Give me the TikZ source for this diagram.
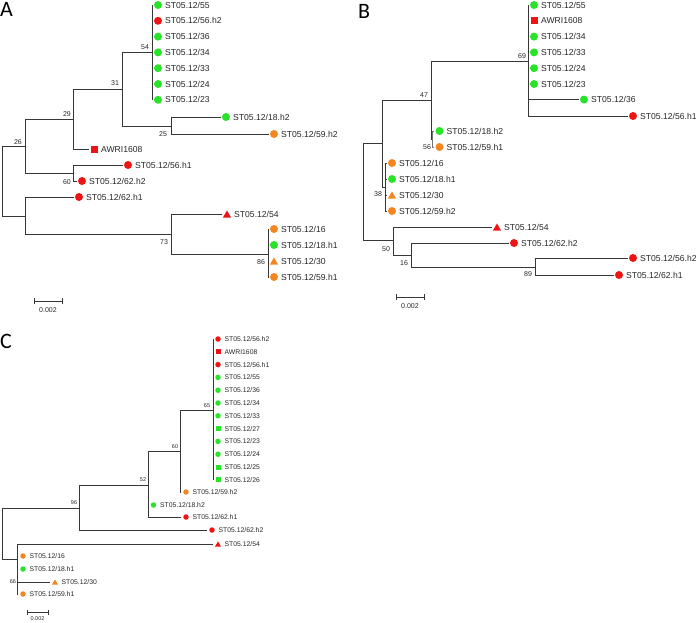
\documentclass[tikz,border=0pt]{standalone}
\usepackage{fontspec}
\setmainfont{Liberation Sans}
\newfontfamily\panelfont{Carlito}
\usetikzlibrary{shapes.geometric}
\definecolor{gr}{RGB}{40,228,40}
\definecolor{rd}{RGB}{238,20,20}
\definecolor{og}{RGB}{244,134,32}
\definecolor{ln}{RGB}{55,55,55}
\tikzset{
  br/.style={draw=ln, line width=1pt, line cap=rect},
  brc/.style={draw=ln, line width=0.8pt, line cap=rect},
  mk/.style={inner sep=0pt, outer sep=0pt, draw=none},
  gdot/.style={mk, circle, fill=gr, minimum size=8pt},
  rdot/.style={mk, circle, fill=rd, minimum size=8pt},
  odot/.style={mk, circle, fill=og, minimum size=8pt},
  rsq/.style={mk, rectangle, fill=rd, minimum size=7pt},
  rtri/.style={mk, regular polygon, regular polygon sides=3, fill=rd, minimum size=9.5pt, yshift=-1.2pt},
  otri/.style={mk, regular polygon, regular polygon sides=3, fill=og, minimum size=9.5pt, yshift=-1.2pt},
  cgdot/.style={mk, circle, fill=gr, minimum size=5.5pt},
  crdot/.style={mk, circle, fill=rd, minimum size=5.5pt},
  codot/.style={mk, circle, fill=og, minimum size=5.5pt},
  crsq/.style={mk, rectangle, fill=rd, minimum size=5pt},
  cgsq/.style={mk, rectangle, fill=gr, minimum size=5pt},
  crtri/.style={mk, regular polygon, regular polygon sides=3, fill=rd, minimum size=7pt, yshift=-0.9pt},
  cotri/.style={mk, regular polygon, regular polygon sides=3, fill=og, minimum size=7pt, yshift=-0.9pt},
  lblA/.style={anchor=base west, inner sep=0pt, font=\fontsize{8.6}{10}\selectfont, text=black!85},
  lblC/.style={anchor=base west, inner sep=0pt, font=\fontsize{6.8}{8}\selectfont, text=black!85},
  bs/.style={inner sep=0pt, font=\fontsize{7}{8}\selectfont, text=black!85},
  bsc/.style={inner sep=0pt, font=\fontsize{5.5}{6}\selectfont, text=black!85},
  panel/.style={inner sep=0pt, font=\panelfont\fontsize{22}{24}\selectfont},
}
\newcommand\leafA[5]{%
  \coordinate (#1) at (#2,#3);
  \node[#4] (#1-m) at (#2+6,#3) {};
  \node[lblA] (#1-t) at (#2+13,#3+3.1) {#5};}
\newcommand\leafC[5]{%
  \coordinate (#1) at (#2,#3);
  \node[#4] (#1-m) at (#2+5,#3) {};
  \node[lblC] (#1-t) at (#2+11.5,#3+2.45) {#5};}
\begin{document}
\begin{tikzpicture}[x=1pt,y=-1pt]
\useasboundingbox (0,0) rectangle (696,622);
% ================= Panel A =================
\node[panel] (pA) at (6.5,9.5) {A};
\coordinate (rA) at (2,181);
\coordinate (n26) at (25,146);
\coordinate (n29) at (73,119);
\coordinate (n31) at (122,89);
\coordinate (n54) at (152,52);
\coordinate (n25) at (171,126);
\coordinate (n60) at (73,173);
\coordinate (nLA) at (25,216);
\coordinate (n73) at (171,234);
\coordinate (n86) at (268,254);
\leafA{a55}{152}{5}{gdot}{ST05.12/55}
\leafA{a56h2}{152}{20.8}{rdot}{ST05.12/56.h2}
\leafA{a36}{152}{36.6}{gdot}{ST05.12/36}
\leafA{a34}{152}{52.4}{gdot}{ST05.12/34}
\leafA{a33}{152}{68.2}{gdot}{ST05.12/33}
\leafA{a24}{152}{84}{gdot}{ST05.12/24}
\leafA{a23}{152}{99.8}{gdot}{ST05.12/23}
\leafA{a18h2}{220}{117}{gdot}{ST05.12/18.h2}
\leafA{a59h2}{268}{134}{odot}{ST05.12/59.h2}
\leafA{aAW}{88}{149}{rsq}{AWRI1608}
\leafA{a56h1}{122}{165}{rdot}{ST05.12/56.h1}
\leafA{a62h2}{76}{181}{rdot}{ST05.12/62.h2}
\leafA{a62h1}{73}{197}{rdot}{ST05.12/62.h1}
\leafA{a54}{221}{214}{rtri}{ST05.12/54}
\leafA{a16}{268}{229}{odot}{ST05.12/16}
\leafA{a18h1}{268}{245}{gdot}{ST05.12/18.h1}
\leafA{a30}{268}{261}{otri}{ST05.12/30}
\leafA{a59h1}{268}{277}{odot}{ST05.12/59.h1}
\draw[br] (rA) |- (n26); \draw[br] (rA) |- (nLA);
\draw[br] (n26) |- (n29); \draw[br] (n26) |- (n60);
\draw[br] (n29) |- (n31); \draw[br] (n29) |- (aAW);
\draw[br] (n31) |- (n54); \draw[br] (n31) |- (n25);
\foreach \l in {a55,a56h2,a36,a34,a33,a24,a23} \draw[br] (n54) |- (\l);
\draw[br] (n25) |- (a18h2); \draw[br] (n25) |- (a59h2);
\draw[br] (n60) |- (a56h1); \draw[br] (n60) |- (a62h2);
\draw[br] (nLA) |- (a62h1); \draw[br] (nLA) |- (n73);
\draw[br] (n73) |- (a54); \draw[br] (n73) |- (n86);
\foreach \l in {a16,a18h1,a30,a59h1} \draw[br] (n86) |- (\l);
\node[bs] (sA54) at (145,47) {54};
\node[bs] (sA31) at (115,83) {31};
\node[bs] (sA29) at (67,114) {29};
\node[bs] (sA26) at (18,142) {26};
\node[bs] (sA25) at (163,134) {25};
\node[bs] (sA60) at (67,182) {60};
\node[bs] (sA73) at (164,242) {73};
\node[bs] (sA86) at (261,262) {86};
\coordinate (sbA1) at (34,301); \coordinate (sbA2) at (62,301);
\draw[br, line cap=butt] (sbA1) -- (sbA2);
\draw[br, line cap=butt] ([yshift=3pt]sbA1) -- ([yshift=-3pt]sbA1);
\draw[br, line cap=butt] ([yshift=3pt]sbA2) -- ([yshift=-3pt]sbA2);
\node[bs] (sbAt) at (48,310) {0.002};
% ================= Panel B =================
\node[panel] (pB) at (364,11) {B};
\coordinate (rB) at (363,191.5);
\coordinate (nB1) at (382,143);
\coordinate (n47) at (431,100);
\coordinate (n69) at (528,61);
\coordinate (n56) at (432.5,139);
\coordinate (n38) at (385,187);
\coordinate (n50) at (393,240);
\coordinate (n16) at (411,255);
\coordinate (n89) at (535,267);
\leafA{b55}{528}{5}{gdot}{ST05.12/55}
\leafA{bAW}{528}{20.8}{rsq}{AWRI1608}
\leafA{b34}{528}{36.6}{gdot}{ST05.12/34}
\leafA{b33}{528}{52.4}{gdot}{ST05.12/33}
\leafA{b24}{528}{68.2}{gdot}{ST05.12/24}
\leafA{b23}{528}{84}{gdot}{ST05.12/23}
\leafA{b36}{578}{99.5}{gdot}{ST05.12/36}
\leafA{b56h1}{627}{116}{rdot}{ST05.12/56.h1}
\leafA{b18h2}{433.5}{131}{gdot}{ST05.12/18.h2}
\leafA{b59h1}{433.5}{147}{odot}{ST05.12/59.h1}
\leafA{b16}{386}{163}{odot}{ST05.12/16}
\leafA{b18h1}{386}{179}{gdot}{ST05.12/18.h1}
\leafA{b30}{386}{195}{otri}{ST05.12/30}
\leafA{b59h2}{386}{211}{odot}{ST05.12/59.h2}
\leafA{b54}{491}{227}{rtri}{ST05.12/54}
\leafA{b62h2}{508}{243}{rdot}{ST05.12/62.h2}
\leafA{b56h2}{627}{258}{rdot}{ST05.12/56.h2}
\leafA{b62h1}{613}{275}{rdot}{ST05.12/62.h1}
\draw[br] (rB) |- (nB1); \draw[br] (rB) |- (n50);
\draw[br] (nB1) |- (n47); \draw[br] (nB1) |- (n38);
\draw[br] (n47) |- (n69); \draw[br] (n47) |- (n56);
\foreach \l in {b55,bAW,b34,b33,b24,b23,b36,b56h1} \draw[br] (n69) |- (\l);
\draw[br, draw=black!55] (n56) |- (b18h2); \draw[br, draw=black!55] (n56) |- (b59h1);
\foreach \l in {b16,b18h1,b30,b59h2} \draw[br] (n38) |- (\l);
\draw[br] (n50) |- (b54); \draw[br] (n50) |- (n16);
\draw[br] (n16) |- (b62h2); \draw[br] (n16) |- (n89);
\draw[br] (n89) |- (b56h2); \draw[br] (n89) |- (b62h1);
\node[bs] (sB69) at (522,56) {69};
\node[bs] (sB47) at (424,95) {47};
\node[bs] (sB56) at (427,147) {56};
\node[bs] (sB38) at (378,194) {38};
\node[bs] (sB50) at (386,249) {50};
\node[bs] (sB16) at (404,263) {16};
\node[bs] (sB89) at (528,274) {89};
\coordinate (sbB1) at (396,297); \coordinate (sbB2) at (424,297);
\draw[br, line cap=butt] (sbB1) -- (sbB2);
\draw[br, line cap=butt] ([yshift=3pt]sbB1) -- ([yshift=-3pt]sbB1);
\draw[br, line cap=butt] ([yshift=3pt]sbB2) -- ([yshift=-3pt]sbB2);
\node[bs] (sbBt) at (410,306) {0.002};
% ================= Panel C =================
\node[panel] (pC) at (6,341.5) {C};
\coordinate (rC) at (2,533.5);
\coordinate (n96) at (79,508);
\coordinate (n52) at (148,485);
\coordinate (nc60) at (180,451);
\coordinate (n65) at (213,410);
\coordinate (nX) at (17,559);
\coordinate (n66) at (17,575);
\leafC{c56h2}{213}{339}{crdot}{ST05.12/56.h2}
\leafC{cAW}{213}{351.8}{crsq}{AWRI1608}
\leafC{c56h1}{213}{364.6}{crdot}{ST05.12/56.h1}
\leafC{c55}{213}{377.4}{cgdot}{ST05.12/55}
\leafC{c36}{213}{390.2}{cgdot}{ST05.12/36}
\leafC{c34}{213}{403}{cgdot}{ST05.12/34}
\leafC{c33}{213}{415.8}{cgdot}{ST05.12/33}
\leafC{c27}{213}{428.6}{cgsq}{ST05.12/27}
\leafC{c23}{213}{441.4}{cgdot}{ST05.12/23}
\leafC{c24}{213}{454.2}{cgdot}{ST05.12/24}
\leafC{c25}{213}{467}{cgsq}{ST05.12/25}
\leafC{c26}{213}{479.8}{cgsq}{ST05.12/26}
\leafC{c59h2}{181}{492}{codot}{ST05.12/59.h2}
\leafC{c18h2}{148.5}{505}{cgdot}{ST05.12/18.h2}
\leafC{c62h1}{181}{517}{crdot}{ST05.12/62.h1}
\leafC{c62h2}{207}{530}{crdot}{ST05.12/62.h2}
\leafC{c54}{213}{544}{crtri}{ST05.12/54}
\leafC{c16}{18}{556}{codot}{ST05.12/16}
\leafC{c18h1}{18}{569}{cgdot}{ST05.12/18.h1}
\leafC{c30}{50}{582}{cotri}{ST05.12/30}
\leafC{c59h1}{18}{594}{codot}{ST05.12/59.h1}
\draw[brc] (rC) |- (n96); \draw[brc] (rC) |- (nX);
\draw[brc] (n96) |- (n52); \draw[brc] (n96) |- (c62h2);
\draw[brc] (n52) |- (nc60); \draw[brc] (n52) |- (c18h2); \draw[brc] (n52) |- (c62h1);
\draw[brc] (nc60) |- (n65); \draw[brc] (nc60) |- (c59h2);
\foreach \l in {c56h2,cAW,c56h1,c55,c36,c34,c33,c27,c23,c24,c25,c26} \draw[brc] (n65) |- (\l);
\draw[brc] (nX) |- (c54); \draw[brc] (nX) |- (n66);
\foreach \l in {c16,c18h1,c30,c59h1} \draw[brc] (n66) |- (\l);
\node[bsc] (sC65) at (207,406) {65};
\node[bsc] (sC60) at (175,447) {60};
\node[bsc] (sC52) at (143,480) {52};
\node[bsc] (sC96) at (74,503) {96};
\node[bsc] (sC66) at (13,582) {66};
\coordinate (sbC1) at (27,612); \coordinate (sbC2) at (48,612);
\draw[brc, line cap=butt] (sbC1) -- (sbC2);
\draw[brc, line cap=butt] ([yshift=2.5pt]sbC1) -- ([yshift=-2.5pt]sbC1);
\draw[brc, line cap=butt] ([yshift=2.5pt]sbC2) -- ([yshift=-2.5pt]sbC2);
\node[bsc] (sbCt) at (37.5,619) {0.002};
\end{tikzpicture}
\end{document}
